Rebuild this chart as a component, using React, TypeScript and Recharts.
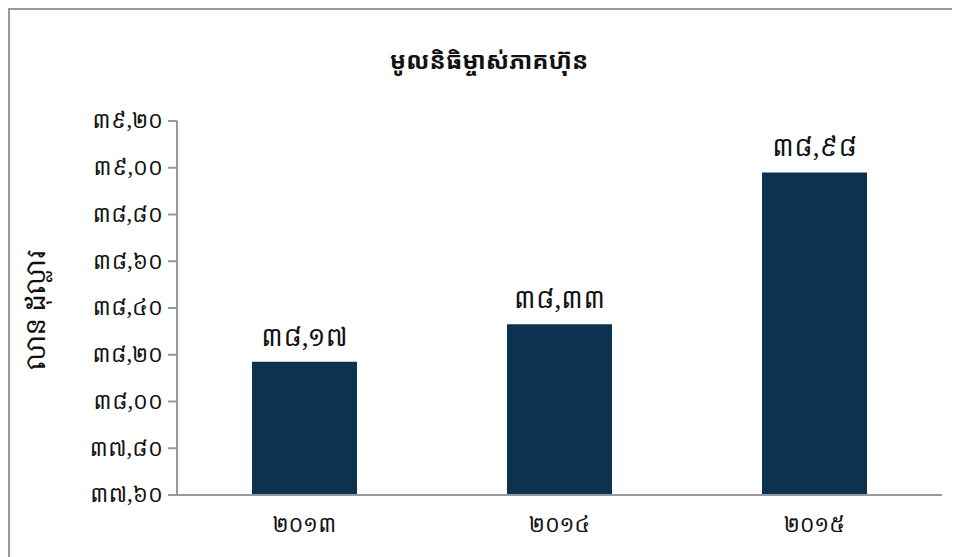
import React from "react";
import { BarChart, Bar, XAxis, YAxis, LabelList } from "recharts";

const years = ["២០១៣", "២០១៤", "២០១៥"];
const equity = [38.17, 38.33, 38.98];
const yTicks = [37.6, 37.8, 38.0, 38.2, 38.4, 38.6, 38.8, 39.0, 39.2];
const title = "មូលនិធិម្ចាស់ភាគហ៊ុន";
const yLabel = "លាន ដុល្លារ";

const KH = ["០", "១", "២", "៣", "៤", "៥", "៦", "៧", "៨", "៩"];
const toKhmer = (v: number) =>
  v
    .toFixed(2)
    .replace(".", ",")
    .replace(/[0-9]/g, (d) => KH[Number(d)]);

const data = years.map((y, i) => ({ year: y, value: equity[i] }));

const FONT = "'Noto Serif Khmer', 'Khmer OS', 'Noto Sans Khmer', serif";
const TITLE_FONT = "'Noto Sans Khmer', 'Khmer OS', sans-serif";

export default function App() {
  return (
    <div
      style={{
        position: "relative",
        width: 970,
        height: 547,
        borderTop: "2px solid #999",
        borderLeft: "2px solid #999",
        background: "#fff",
        fontFamily: FONT,
      }}
    >
      <style>{`html,body{overflow:hidden;}`}</style>
      <div
        style={{
          position: "absolute",
          left: 0,
          width: 958,
          top: 33,
          textAlign: "center",
          fontSize: 24,
          fontWeight: "bold",
          color: "#111",
          fontFamily: TITLE_FONT,
        }}
      >
        {title}
      </div>
      <div
        style={{
          position: "absolute",
          left: 25 - 100,
          top: 300 - 15,
          width: 200,
          height: 30,
          lineHeight: "30px",
          textAlign: "center",
          transform: "rotate(-90deg)",
          fontSize: 26,
          color: "#111",
          fontFamily: FONT,
        }}
      >
        {yLabel}
      </div>
      <BarChart
        width={970}
        height={547}
        data={data}
        margin={{ top: 111, right: 38, bottom: 22, left: 0 }}
        style={{ position: "absolute", left: 0, top: 0 }}
      >
        <XAxis
          dataKey="year"
          height={40}
          tickLine={false}
          axisLine={{ stroke: "#999", strokeWidth: 2 }}
          tick={{ fill: "#111", fontSize: 21, fontFamily: FONT, dy: 14 }}
        />
        <YAxis
          width={167}
          domain={[37.6, 39.2]}
          ticks={yTicks}
          allowDataOverflow
          tickSize={9}
          tickMargin={5}
          tickLine={{ stroke: "#999", strokeWidth: 2 }}
          axisLine={{ stroke: "#999", strokeWidth: 2 }}
          tickFormatter={(v: number) => toKhmer(v)}
          tick={{ fill: "#111", fontSize: 21, fontFamily: FONT }}
        />
        <Bar dataKey="value" fill="#0b3351" barSize={105} isAnimationActive={false}>
          <LabelList
            dataKey="value"
            position="top"
            offset={16}
            formatter={(v: number) => toKhmer(v)}
            style={{ fill: "#111", fontSize: 25, fontFamily: FONT }}
          />
        </Bar>
      </BarChart>
    </div>
  );
}
